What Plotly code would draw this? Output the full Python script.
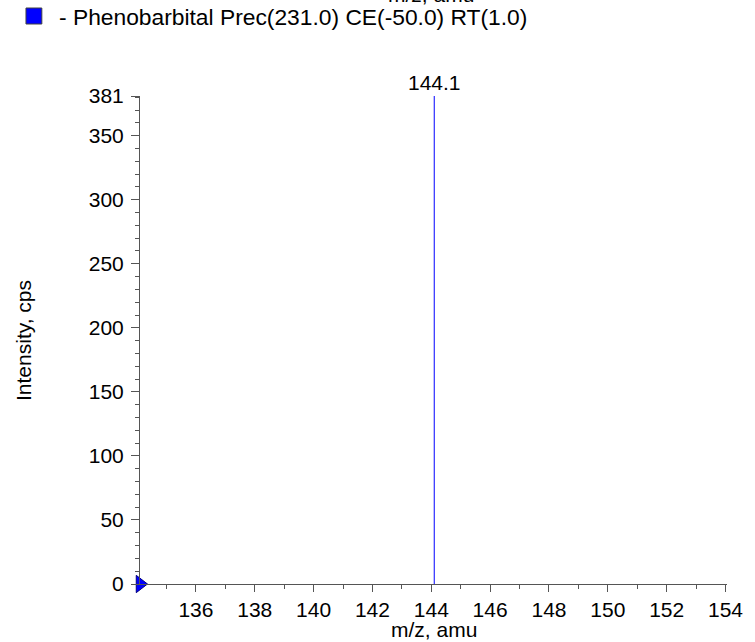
import plotly.graph_objects as go

# Data
peak_mz = [144.1]
peak_intensity = [381]
peak_labels = ["144.1"]
x_ticks = [136, 138, 140, 142, 144, 146, 148, 150, 152, 154]
y_ticks = [0, 50, 100, 150, 200, 250, 300, 350, 381]
x_range = [134.1, 154.05]
y_range = [0, 381]
legend_text = "- Phenobarbital Prec(231.0) CE(-50.0) RT(1.0)"

FONT = "Liberation Sans, Arial, sans-serif"
AXC = "#555555"
BLUE = "#0000ff"
FS = 21

# stick spectrum
xs, ys = [], []
for m, i in zip(peak_mz, peak_intensity):
    xs += [m, m, None]
    ys += [0, i, None]

fig = go.Figure()
fig.add_trace(go.Scatter(x=xs, y=ys, mode="lines",
                         line=dict(color=BLUE, width=1), showlegend=False,
                         hoverinfo="skip"))
# origin marker
fig.add_trace(go.Scatter(x=[x_range[0]], y=[y_range[0]], mode="markers",
                         marker=dict(symbol="triangle-right", size=15, color=BLUE,
                                     line=dict(color="#000080", width=1)),
                         cliponaxis=False, showlegend=False))

W, H = 755, 642
L, R, T, B = 140, 23, 96, 58
pw, ph = W - L - R, H - T - B

def px(x):
    return (x - L) / pw

def py(y):
    return (H - B - y) / ph

annotations = []
for m, i, t in zip(peak_mz, peak_intensity, peak_labels):
    annotations.append(dict(x=m, y=i, text=t, showarrow=False, xanchor="center",
                            yanchor="bottom", yshift=0,
                            font=dict(family=FONT, size=FS, color="black")))
annotations += [
    dict(xref="paper", yref="paper", x=0.5, y=py(629), text="m/z, amu",
         showarrow=False, xanchor="center", yanchor="middle",
         font=dict(family=FONT, size=FS, color="black")),
    dict(xref="paper", yref="paper", x=px(22), y=0.5, text="Intensity, cps",
         textangle=-90, showarrow=False, xanchor="center", yanchor="middle",
         font=dict(family=FONT, size=FS, color="black")),
    dict(xref="paper", yref="paper", x=px(433), y=py(-5), text="m/z, amu",
         showarrow=False, xanchor="center", yanchor="middle",
         font=dict(family=FONT, size=FS, color="black")),
    dict(xref="paper", yref="paper", x=px(56), y=py(17), text=legend_text,
         showarrow=False, xanchor="left", yanchor="middle",
         font=dict(family=FONT, size=22.8, color="black")),
]

shapes = [dict(type="rect", xref="paper", yref="paper",
               x0=px(25), x1=px(41), y0=py(24), y1=py(8),
               fillcolor=BLUE, line=dict(color="#404040", width=1))]

fig.update_layout(
    width=W, height=H,
    margin=dict(l=L, r=R, t=T, b=B, pad=0),
    paper_bgcolor="white", plot_bgcolor="white",
    font=dict(family=FONT, size=FS, color="black"),
    showlegend=False,
    annotations=annotations,
    shapes=shapes,
    xaxis=dict(range=x_range, tickmode="array", tickvals=x_ticks,
               ticktext=[str(v) for v in x_ticks],
               showgrid=False, zeroline=False, showline=True, linecolor=AXC,
               linewidth=1, ticks="outside", ticklen=7, tickcolor=AXC,
               tickfont=dict(family=FONT, size=FS, color="black"),
               minor=dict(dtick=1, tick0=0, ticks="outside", ticklen=4,
                          tickcolor=AXC, showgrid=False)),
    yaxis=dict(range=y_range, tickmode="array", tickvals=y_ticks,
               ticktext=[str(v) for v in y_ticks],
               showgrid=False, zeroline=False, showline=True, linecolor=AXC,
               linewidth=1, ticks="outside", ticklen=8, tickcolor=AXC,
               ticklabelstandoff=3,
               tickfont=dict(family=FONT, size=FS, color="black"),
               minor=dict(dtick=10, tick0=0, ticks="outside", ticklen=4,
                          tickcolor=AXC, showgrid=False)),
)

fig.write_html("out.html", config={"displayModeBar": False},
               post_script="document.body.style.margin='0';document.body.style.overflow='hidden';")
